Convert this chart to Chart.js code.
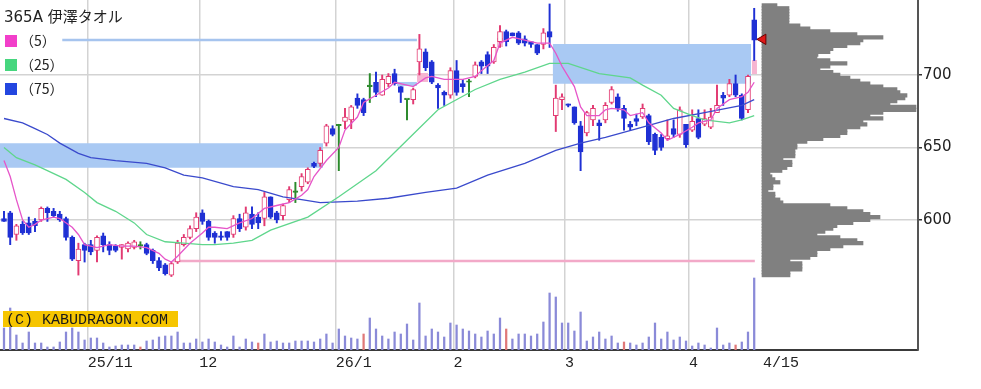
<!DOCTYPE html>
<html><head><meta charset="utf-8">
<script src="https://cdn.jsdelivr.net/npm/chart.js@4/dist/chart.umd.min.js"></script>
<style>html,body{margin:0;padding:0;background:#fff;}#wrap{width:981px;height:389px;position:relative;}</style>
</head><body><div id="wrap"><canvas id="c"></canvas></div>
<script>
// ---------- data ----------
const opens = [601,605,590,597,598,599,600,608,606,604, 601,588,572,583,583,579,589,583,582,581, 580,581,582,583,579,572,569,562,571,583, 588,594,605,599,591,589,592,590,601,595, 604,602,601,616,605,603,614,619,623,626, 639,639,653,663,665,668,669,684,683,692, 695,686,694,701,692,683,683,709,716,709, 693,688,686,703,694,695,699,709,714,709, 723,730,729,729,725,723,721,721,730,672, 683,680,678,665,660,669,667,669,681,685, 677,666,670,671,672,659,657,656,663,659, 666,662,670,666,664,674,686,686,694,686, 676,738];
const highs = [606,606,597,599,602,601,609,609,608,606, 602,589,584,584,586,589,591,585,583,583, 585,586,585,584,580,574,570,571,586,590, 596,605,607,600,592,592,592,603,604,609, 609,605,619,616,606,611,623,626,632,636, 640,650,666,665,666,677,679,687,684,701, 702,700,701,704,692,683,691,728,718,710, 694,689,705,710,697,697,709,710,716,721, 734,731,729,730,727,723,721,732,749,693, 687,680,678,668,675,679,669,681,692,687, 679,668,673,680,673,660,659,669,669,678, 666,676,676,676,677,693,688,697,700,687, 700,746];
const lows = [599,583,586,590,590,592,599,599,602,599, 586,572,562,571,576,571,578,576,578,573, 578,580,580,576,570,565,562,561,570,582, 587,592,597,586,584,586,586,588,592,593, 594,594,596,601,598,600,612,612,620,625, 636,637,651,658,634,663,663,677,672,681, 685,686,692,693,681,669,680,700,703,694, 677,679,684,686,688,685,698,701,701,708, 719,720,727,721,720,719,714,718,719,661, 676,678,666,634,658,665,655,667,680,675, 662,662,665,670,652,645,648,655,657,657, 650,661,656,665,663,674,679,685,685,669, 674,710];
const closes = [599,588,596,591,591,596,608,605,603,600, 588,573,580,579,578,588,583,579,579,583, 584,585,582,577,572,567,563,570,584,588, 594,602,599,588,588,588,588,601,594,605, 597,598,616,602,600,610,621,619,630,635, 637,648,665,659,665,671,678,679,674,692, 688,697,699,694,688,683,690,718,705,695, 691,686,703,688,692,695,707,706,706,719, 730,723,727,722,722,721,715,729,726,684, 685,679,667,647,674,677,665,679,690,677, 670,664,668,677,654,648,650,658,659,676, 652,668,657,670,671,679,684,694,686,670, 699,724];
const volumes = [22,42,15,7,18,7,7,3,3,8, 18,22,18,10,12,12,7,3,4,5, 5,5,3,9,10,13,14,14,18,7, 7,11,8,11,8,5,3,14,3,11, 8,7,16,8,9,7,7,9,9,9, 8,11,16,7,21,14,12,11,16,32, 21,14,11,18,16,26,10,47,14,21, 18,13,27,25,21,19,16,13,19,16, 32,21,11,16,16,14,16,28,57,53, 27,27,19,38,9,13,18,11,14,7, 8,7,5,7,13,27,11,18,10,13, 9,4,7,5,2,22,5,7,5,8, 18,72];
const volumeRedIdx = [22,41,58,81,100,118];

const ma5Idx = [0,1,2,3,4,5,6,8,9,11,12,13,15,17,19,21,23,25,26,27,28,30,32,33,34,36,38,40,42,44,46,48,49,50,52,54,55,57,58,60,62,63,65,66,68,69,71,72,74,76,77,79,80,82,84,86,88,89,90,92,93,94,96,97,98,100,101,103,104,106,107,109,111,112,114,115,117,119,120,121];
const ma5Val = [641,630,614,600,595,597,600,602,601,595,590,583,581,583,582,582,581,577,573,571,575,584,591,595,595,594,598,601,608,610,612,617,621,630,641,650,662,671,681,686,691,695,693,692,698,699,697,697,697,699,703,710,722,726,724,722,722,715,706,692,678,672,672,676,677,676,672,674,667,660,655,659,664,667,669,677,683,685,688,695];
const ma25Idx = [0,2,5,7,10,13,15,18,21,23,26,29,32,34,37,40,43,49,54,60,65,70,76,80,84,88,91,96,101,103,106,108,111,113,117,119,121];
const ma25Val = [650,643,638,634,628,619,612,606,598,590,585,584,583,583,584,586,593,602,616,634,655,676,690,697,702,708,708,701,698,693,686,677,672,669,667,669,672];
const ma75Idx = [0,3,5,7,9,12,14,18,23,26,29,32,37,41,45,48,51,57,62,68,73,78,84,89,93,97,103,108,113,119,121];
const ma75Val = [670,667,663,659,653,646,643,641,639,636,631,629,623,621,616,614,612,613,615,619,622,631,639,648,653,657,664,670,674,679,683];

const profilePrices = [562,564,566,568,570,572,574,576,578,580,582,584,586,588,590,592,594,596,598,600,602,604,606,608,610,612,614,616,618,620,622,624,626,628,630,632,634,636,638,640,642,644,646,648,650,652,654,656,658,660,662,664,666,668,670,672,674,676,678,680,682,684,686,688,690,692,694,696,698,700,702,704,706,708,710,712,714,716,718,720,722,724,726,728,730,732,734,736,738,740,742,744,746,748];
const profileVolumes = [28,28,40,40,40,28,48,55,55,68,81,101,95,78,55,63,71,75,91,108,118,108,101,85,68,21,18,13,13,6,11,11,18,13,10,8,20,25,30,30,21,33,33,33,35,35,45,61,78,85,85,98,105,101,121,108,121,154,154,128,135,143,145,138,135,121,108,98,88,78,71,58,68,85,68,55,56,68,71,85,98,101,121,95,68,48,38,27,27,27,27,27,27,15];

const gapStart = [-0.65, 88.5, 63.4, 66.6, 79.5, 120.6];
const gapEnd   = [51.45, 120.5, 66.6, 68.4, 80.5, 121.45];
const gapLow   = [636, 694, 692.4, 695.2, 719.3, 700.7];
const gapHigh  = [653, 721.4, 695.2, 701.4, 725.5, 710.3];
const gapKind  = ['down','down','down','up','up','up'];

const levelPrice = [724.1, 571.7];
const levelStart = [9.4, 27.3];
const levelEnd   = [66.6, 121.1];
const levelKind  = ['high','low'];

const lastPrice = 724.6;
const lastMarkerIdx = 122.4;

const priceTicks = [600, 650, 700];
const monthTickIdx = [13.5, 31.5, 53.5, 72.5, 90.5, 110.5, 122.4];
const monthTickLabels = ['25/11', '12', '26/1', '2', '3', '4', '4/15'];

const legendTitle = '365A 伊澤タオル';
const legendLabels = ['（5）', '（25）', '（75）'];
const watermarkText = '(C) KABUDRAGON.COM';

// ---------- styling ----------
const UP = '#e23a72', DOWN = '#1f30d4', DOJI = '#2b8a2b';
const idx = opens.map((_, i) => i);
const candleColor = idx.map(i => closes[i] > opens[i] ? UP : (closes[i] < opens[i] ? DOWN : DOJI));
const bodyFill = idx.map(i => closes[i] > opens[i] ? '#ffffff' : candleColor[i]);
const MA_COLORS = ['#e655c9', '#5fd68c', '#3a4acc'];
const LEGEND_COLORS = ['#f23fca', '#46d67e', '#2346e0'];

const yMin = 510.34, yMax = 751.72;

const zoneSets = gapStart.map((s, k) => ({
  type: 'line', xAxisID: 'x', yAxisID: 'y', order: 20,
  data: [{x: s, y: gapHigh[k]}, {x: gapEnd[k], y: gapHigh[k]}],
  borderColor: 'rgba(0,0,0,0)', borderWidth: 0, pointRadius: 0,
  fill: {value: gapLow[k]},
  backgroundColor: gapKind[k] === 'down' ? '#a9c9f3' : '#f6b5d1'
}));
const levelSets = levelPrice.map((p, k) => ({
  type: 'line', xAxisID: 'x', yAxisID: 'y', order: 18,
  data: [{x: levelStart[k], y: p}, {x: levelEnd[k], y: p}],
  borderColor: levelKind[k] === 'high' ? '#a6c4ee' : '#f2a9c8', borderWidth: 2.4, pointRadius: 0, fill: false
}));
function maSet(ix, vals, color, order) {
  return {type: 'line', xAxisID: 'x', yAxisID: 'y', order,
    data: ix.map((x, k) => ({x, y: vals[k]})),
    borderColor: color, borderWidth: 1.3, pointRadius: 0, fill: false, tension: 0};
}

const datasets = [
  ...zoneSets,
  ...levelSets,
  {type: 'bar', xAxisID: 'x', yAxisID: 'vol', order: 16, grouped: false,
   data: idx.map(i => ({x: i, y: volumes[i]})),
   backgroundColor: idx.map(i => volumeRedIdx.includes(i) ? '#e07878' : '#8a8ad8'),
   barThickness: 1.6},
  {type: 'bar', indexAxis: 'y', xAxisID: 'xp', yAxisID: 'yp', order: 16, grouped: false,
   data: profilePrices.map((p, k) => ({x: profileVolumes[k], y: p})),
   backgroundColor: '#808080', barThickness: 3.6, borderWidth: 0},
  {type: 'bar', xAxisID: 'x', yAxisID: 'y', order: 12, grouped: false,
   data: idx.map(i => ({x: i, y: [lows[i], highs[i]]})),
   backgroundColor: candleColor, barThickness: 1.3},
  {type: 'bar', xAxisID: 'x', yAxisID: 'y', order: 11, grouped: false,
   data: idx.map(i => ({x: i, y: [opens[i], closes[i]]})),
   backgroundColor: bodyFill, borderColor: candleColor, borderWidth: 1, borderSkipped: false,
   barThickness: 5, minBarLength: 1.5},
  maSet(ma75Idx, ma75Val, MA_COLORS[2], 6),
  maSet(ma25Idx, ma25Val, MA_COLORS[1], 5),
  maSet(ma5Idx, ma5Val, MA_COLORS[0], 4),
  {type: 'line', xAxisID: 'x', yAxisID: 'y', order: 1, showLine: false,
   data: [{x: lastMarkerIdx, y: lastPrice}],
   pointStyle: 'triangle', pointRotation: -90, pointRadius: 6,
   pointBackgroundColor: '#e01818', pointBorderColor: '#6a0000', pointBorderWidth: 1}
];

const overlay = {
  id: 'overlay',
  afterDatasetsDraw(chart) {
    const ctx = chart.ctx;
    ctx.save();
    // watermark
    ctx.fillStyle = '#f6c500';
    ctx.fillRect(3, 311, 175, 16);
    ctx.fillStyle = '#1a1a1a';
    ctx.font = "15px 'Liberation Mono', monospace";
    ctx.textBaseline = 'middle';
    ctx.textAlign = 'left';
    ctx.fillText(watermarkText, 6, 320);
    // legend
    ctx.fillStyle = '#222';
    ctx.font = "15px 'DejaVu Sans', 'Noto Sans CJK JP', sans-serif";
    ctx.fillText(legendTitle, 4, 18);
    const rowY = [41, 65, 89];
    legendLabels.forEach((t, k) => {
      ctx.fillStyle = LEGEND_COLORS[k];
      ctx.fillRect(5, rowY[k] - 6, 12, 12);
      ctx.fillStyle = '#222';
      ctx.font = "14px 'Noto Sans CJK JP', sans-serif";
      ctx.fillText(t, 20, rowY[k]);
    });
    ctx.restore();
  }
};

Chart.defaults.font.family = "'DejaVu Sans', sans-serif";
new Chart(document.getElementById('c'), {
  type: 'bar',
  data: {datasets},
  plugins: [overlay],
  options: {
    responsive: true, maintainAspectRatio: false, animation: false, events: [],
    layout: {padding: 0, autoPadding: false},
    plugins: {legend: {display: false}, tooltip: {enabled: false}},
    scales: {
      x: {type: 'linear', position: 'bottom', min: -0.645, max: 147.42, offset: false,
        grid: {color: c => (c.tick && c.tick.value > 121) ? 'rgba(0,0,0,0)' : '#d3d3d3', lineWidth: 1.5, drawTicks: false, offset: false},
        border: {display: true, color: '#3a3a3a', width: 2},
        afterBuildTicks: s => { s.ticks = monthTickIdx.map(v => ({value: v})); },
        ticks: {autoSkip: false, maxRotation: 0, minRotation: 0, align: 'start', padding: 4, color: '#222',
          font: {family: "'Liberation Mono', monospace", size: 15},
          callback: v => { const k = monthTickIdx.indexOf(v); return k >= 0 ? monthTickLabels[k] : ''; }},
        afterFit: s => { s.height = 39; s.paddingLeft = 0; s.paddingRight = 0; }
      },
      y: {type: 'linear', position: 'right', min: yMin, max: yMax, offset: false,
        grid: {color: '#d3d3d3', lineWidth: 1.5, tickColor: '#333', tickLength: 4, tickWidth: 1.5},
        border: {display: true, color: '#555', width: 2},
        afterBuildTicks: s => { s.ticks = priceTicks.map(v => ({value: v})); },
        ticks: {padding: 1, color: '#222', font: {family: "'DejaVu Sans', sans-serif", size: 15}, callback: v => String(v)},
        afterFit: s => { s.width = 63; s.paddingTop = 0; s.paddingBottom = 0; }
      },
      vol: {type: 'linear', axis: 'y', position: 'left', min: 0, max: 350, display: false, offset: false},
      xp: {type: 'linear', axis: 'x', position: 'bottom', min: -762, max: 156, display: false, offset: false},
      yp: {type: 'linear', axis: 'y', position: 'right', min: yMin, max: yMax, display: false, offset: false}
    }
  }
});
</script></body></html>
